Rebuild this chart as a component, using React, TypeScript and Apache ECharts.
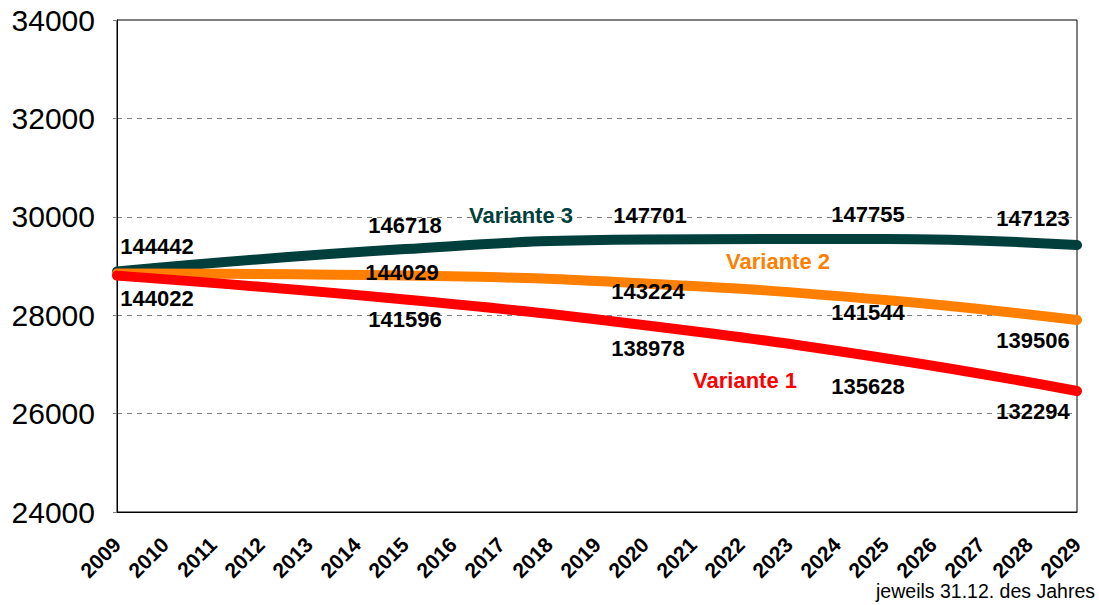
import React, { useEffect, useRef } from "react";
import * as echarts from "echarts";

const years = [2009, 2010, 2011, 2012, 2013, 2014, 2015, 2016, 2017, 2018, 2019, 2020, 2021, 2022, 2023, 2024, 2025, 2026, 2027, 2028, 2029];
const yTickLabels = ["24000", "26000", "28000", "30000", "32000", "34000"];
const keyYears = [2009, 2015, 2020, 2025, 2029];
const variante1 = [144022, 141596, 138978, 135628, 132294];
const variante2 = [144232, 144029, 143224, 141544, 139506];
const variante3 = [144442, 146718, 147701, 147755, 147123];
const seriesNames = ["Variante 1", "Variante 2", "Variante 3"];
const showLabel1 = [true, true, true, true, true];
const showLabel2 = [false, true, true, true, true];
const showLabel3 = [true, true, true, true, true];
const note = "jeweils 31.12. des Jahres";

const Y_MIN = 120000;
const Y_MAX = 170000;
const Y_STEP = 10000;

const FONT = "'Liberation Sans', Arial, Helvetica, sans-serif";
const C1 = "#FF0000";
const C2 = "#FF8000";
const C3 = "#003F3C";

const off1 = [[40, 23], [0, 20], [3, 23], [-17, 28], [-44, 20]];
const off2 = [[0, 0], [-3, -3], [3, 8], [-17, 12], [-44, 20]];
const off3 = [[40, -25], [0, -24], [5, -24], [-17, -24], [-44, -27]];

function buildData(values: number[], show: boolean[]) {
  return keyYears.map((yr, i) => ({
    value: [yr, values[i]],
    label: {
      show: show[i],
      position: "inside",
      formatter: String(values[i]),
      color: "#000",
      fontWeight: "bold",
      fontSize: 22,
      fontFamily: FONT,
      align: "center",
      verticalAlign: "middle",
    },
  }));
}

function lineSeries(name: string, color: string, data: any[], offs: number[][], z: number) {
  return {
    name,
    type: "line",
    smooth: 0.45,
    symbol: "circle",
    symbolSize: 1,
    itemStyle: { color },
    lineStyle: { color, width: 10, cap: "round", join: "round" },
    data,
    z,
    labelLayout: (p: any) => ({ dx: offs[p.dataIndex][0], dy: offs[p.dataIndex][1], hideOverlap: false }),
  };
}

export default function App() {
  const ref = useRef<HTMLDivElement>(null);
  useEffect(() => {
    document.body.style.margin = "0";
    if (!ref.current) return;
    const chart = echarts.init(ref.current, null, { renderer: "svg" });
    chart.setOption({
      animation: false,
      backgroundColor: "#fff",
      grid: { left: 117, top: 20, width: 960, height: 492, show: true, borderColor: "#000", borderWidth: 1, backgroundColor: "transparent" },
      xAxis: {
        type: "value",
        min: 2009,
        max: 2029,
        interval: 1,
        axisLine: { show: true, lineStyle: { color: "#000", width: 1 } },
        axisTick: { show: false },
        splitLine: { show: false },
        axisLabel: {
          rotate: 45,
          margin: 29,
          fontSize: 21,
          fontWeight: "bold",
          color: "#000",
          fontFamily: FONT,
          formatter: (v: number) => (years.indexOf(v) >= 0 ? String(v) : ""),
        },
      },
      yAxis: {
        type: "value",
        min: Y_MIN,
        max: Y_MAX,
        interval: Y_STEP,
        axisLine: { show: true, lineStyle: { color: "#000", width: 1 } },
        axisTick: { show: true, length: 4, lineStyle: { color: "#808080" } },
        splitLine: { show: true, lineStyle: { color: "#808080", width: 1, type: [5, 5] } },
        axisLabel: {
          margin: 22,
          fontSize: 30,
          color: "#000",
          fontFamily: FONT,
          formatter: (v: number) => yTickLabels[Math.round((v - Y_MIN) / Y_STEP)] ?? "",
        },
      },
      series: [
        lineSeries(seriesNames[2], C3, buildData(variante3, showLabel3), off3, 2),
        lineSeries(seriesNames[1], C2, buildData(variante2, showLabel2), off2, 3),
        lineSeries(seriesNames[0], C1, buildData(variante1, showLabel1), off1, 4),
      ],
      graphic: [
        { type: "text", x: 521, y: 215, z: 10, style: { text: seriesNames[2], fill: C3, fontSize: 22, fontWeight: "bold", fontFamily: FONT, textAlign: "center", textVerticalAlign: "middle" } },
        { type: "text", x: 778, y: 261, z: 10, style: { text: seriesNames[1], fill: C2, fontSize: 22, fontWeight: "bold", fontFamily: FONT, textAlign: "center", textVerticalAlign: "middle" } },
        { type: "text", x: 745, y: 380, z: 10, style: { text: seriesNames[0], fill: C1, fontSize: 22, fontWeight: "bold", fontFamily: FONT, textAlign: "center", textVerticalAlign: "middle" } },
        { type: "text", x: 1095, y: 591, z: 10, style: { text: note, fill: "#000", fontSize: 19.5, fontFamily: FONT, textAlign: "right", textVerticalAlign: "middle" } },
      ],
    });
    return () => chart.dispose();
  }, []);
  return <div ref={ref} style={{ width: 1099, height: 605 }} />;
}
